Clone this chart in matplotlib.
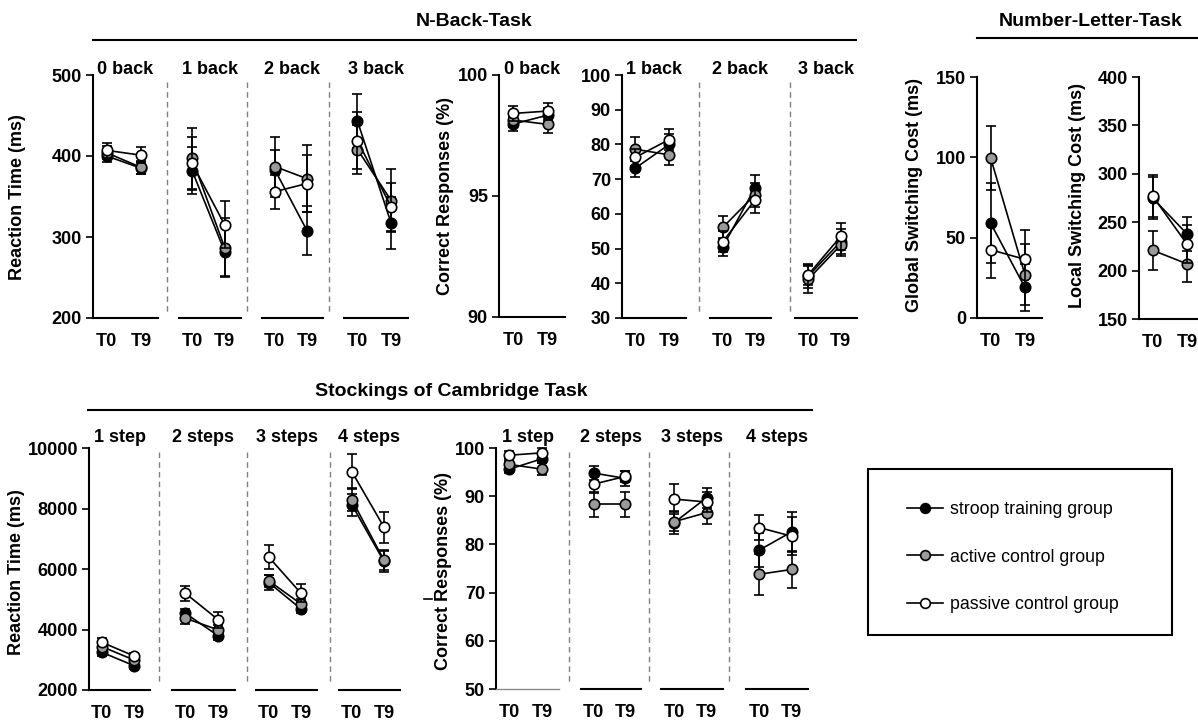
import matplotlib
matplotlib.use('Agg')
import matplotlib.pyplot as plt
from matplotlib.lines import Line2D
from matplotlib.patches import Rectangle

# groups and time points
group_names = ['stroop training group', 'active control group', 'passive control group']
fills = ['#000000', '#9a9a9a', '#ffffff']
time_labels = ['T0', 'T9']

# N-Back reaction time (ms), per level [T0, T9]
nback_levels = ['0 back', '1 back', '2 back', '3 back']
nback_rt_stroop = [[400, 385], [382, 282], [383, 308], [443, 317]]
nback_rt_active = [[404, 386], [397, 287], [387, 372], [408, 345]]
nback_rt_passive = [[407, 401], [391, 315], [356, 366], [419, 337]]
nback_rt_stroop_err = [[8, 7], [29, 30], [25, 30], [33, 32]]
nback_rt_active_err = [[8, 8], [38, 36], [37, 41], [30, 39]]
nback_rt_passive_err = [[9, 10], [33, 29], [21, 35], [35, 30]]

# N-Back correct responses (%)
nback_cr_stroop = [[97.97, 98.34], [73.2, 80.0], [50.5, 67.5], [42.0, 52.0]]
nback_cr_active = [[98.14, 97.96], [78.6, 77.0], [56.1, 65.5], [41.1, 51.0]]
nback_cr_passive = [[98.41, 98.51], [76.3, 81.4], [52.0, 64.0], [42.4, 53.5]]
nback_cr_stroop_err = [[0.3, 0.3], [2.5, 3.0], [2.5, 3.7], [3.5, 3.5]]
nback_cr_active_err = [[0.3, 0.37], [3.4, 3.0], [3.4, 3.5], [4.0, 3.0]]
nback_cr_passive_err = [[0.3, 0.35], [2.5, 3.0], [3.0, 3.8], [3.0, 4.0]]

# Number-Letter-Task switching costs (ms), per group [T0, T9]
global_cost = [[59, 19], [99.6, 27], [42.5, 36.5]]
global_cost_err = [[25, 14.6], [19.7, 19], [17.5, 18]]
local_cost = [[275, 238], [221, 207], [277, 227.5]]
local_cost_err = [[22, 17.5], [20, 19], [22, 20]]

# Stockings of Cambridge reaction time (ms)
soc_levels = ['1 step', '2 steps', '3 steps', '4 steps']
soc_rt_stroop = [[3247, 2805], [4538, 3788], [5550, 4681], [8124, 6250]]
soc_rt_active = [[3434, 2993], [4372, 3986], [5608, 4846], [8290, 6292]]
soc_rt_passive = [[3578, 3126], [5200, 4317], [6392, 5200], [9217, 7385]]
soc_rt_stroop_err = [[120, 100], [150, 130], [250, 120], [370, 333]]
soc_rt_active_err = [[120, 100], [200, 150], [200, 150], [380, 320]]
soc_rt_passive_err = [[130, 110], [250, 265], [390, 290], [585, 515]]

# Stockings of Cambridge correct responses (%)
soc_cr_stroop = [[95.6, 97.8], [94.8, 93.7], [84.5, 89.7], [78.8, 82.6]]
soc_cr_active = [[96.6, 95.6], [88.3, 88.3], [84.7, 86.6], [73.8, 74.8]]
soc_cr_passive = [[98.5, 99.0], [92.5, 94.1], [89.4, 88.8], [83.5, 81.7]]
soc_cr_stroop_err = [[0.8, 1.0], [1.4, 1.5], [2.4, 2.1], [3.5, 4.1]]
soc_cr_active_err = [[0.8, 1.3], [2.6, 2.6], [2.0, 2.4], [4.3, 3.9]]
soc_cr_passive_err = [[0.8, 1.0], [1.8, 1.2], [3.1, 2.0], [2.6, 4.0]]

W, H = 1198, 720
plt.rcParams['font.family'] = ['Liberation Sans', 'DejaVu Sans']
plt.rcParams['font.weight'] = 'bold'
fig = plt.figure(figsize=(W / 100, H / 100), dpi=100)


def fx(x):
    return x / W


def fy(y):
    return 1 - y / H


def panel(x0, x1, ytop, ybot, ylim, means, errs, k, title=None, yticks=None, gap=6):
    # one sub-panel, positioned in pixels of the figure
    ax = fig.add_axes([fx(x0), fy(ybot), (x1 - x0) / W, (ybot - ytop) / H])
    for g in range(3):
        ax.errorbar([0, 1], means[g][k], yerr=errs[g][k], color='black', lw=1.2,
                    elinewidth=1.2, capsize=3.5, capthick=1.2, marker='o', ms=7.5,
                    mfc=fills[g], mec='black', mew=1.2, zorder=3 + g)
    for art in ax.lines + ax.collections:
        art.set_clip_on(False)
    ax.set_xlim(-0.4, 1.5)
    ax.set_ylim(ylim)
    ax.set_xticks([0, 1])
    ax.set_xticklabels(time_labels)
    ax.tick_params(axis='x', length=0, pad=11, labelsize=13)
    ax.spines[['top', 'right']].set_visible(False)
    ax.spines['bottom'].set_linewidth(1.5)
    if yticks is None:
        ax.spines['left'].set_visible(False)
        ax.set_yticks([])
    else:
        ax.spines['left'].set_linewidth(1.5)
        ax.set_yticks(yticks)
        ax.tick_params(axis='y', direction='out', length=5, width=1.2, labelsize=13, pad=3)
    ax.patch.set_alpha(0)
    if title:
        ax.annotate(title, xy=(0.5, 1), xycoords='axes fraction', xytext=(0, gap),
                    textcoords='offset pixels', ha='center', va='center', fontsize=13)
    return ax


def hline(x0, x1, y, lw=1.5):
    fig.add_artist(Line2D([fx(x0), fx(x1)], [fy(y), fy(y)], color='black', lw=lw))


def vdash(x, y0, y1):
    fig.add_artist(Line2D([fx(x), fx(x)], [fy(y0), fy(y1)], color='#808080', lw=1,
                          linestyle=(0, (4, 3))))


def ylab(x, y, text):
    fig.text(fx(x), fy(y), text, rotation=90, ha='center', va='center', fontsize=13)


# ---- N-Back reaction time
rt_means = [nback_rt_stroop, nback_rt_active, nback_rt_passive]
rt_errs = [nback_rt_stroop_err, nback_rt_active_err, nback_rt_passive_err]
spans = [(93, 158), (179, 241), (262, 323), (344, 408)]
for k, (a, b) in enumerate(spans):
    panel(a, b, 75, 318, (200, 500), rt_means, rt_errs, k, nback_levels[k],
          yticks=[200, 300, 400, 500] if k == 0 else None)
for x in [167, 247, 329]:
    vdash(x, 82, 312)
ylab(18, 197, 'Reaction Time (ms)')

# ---- N-Back correct responses
cr_means = [nback_cr_stroop, nback_cr_active, nback_cr_passive]
cr_errs = [nback_cr_stroop_err, nback_cr_active_err, nback_cr_passive_err]
panel(499, 565, 75, 317, (90, 100), cr_means, cr_errs, 0, nback_levels[0], yticks=[90, 95, 100])
panel(622, 686, 75, 318, (30, 100), cr_means, cr_errs, 1, nback_levels[1],
      yticks=[30, 40, 50, 60, 70, 80, 90, 100])
panel(710, 771, 75, 318, (30, 100), cr_means, cr_errs, 2, nback_levels[2])
panel(795, 857, 75, 318, (30, 100), cr_means, cr_errs, 3, nback_levels[3])
for x in [699, 790]:
    vdash(x, 82, 312)
ylab(445, 196, 'Correct Responses (%)')

fig.text(fx(474), fy(22), 'N-Back-Task', ha='center', va='center', fontsize=14)
hline(93, 856, 40)

# ---- Number-Letter-Task
g_means = [[global_cost[g]] for g in range(3)]
g_errs = [[global_cost_err[g]] for g in range(3)]
panel(977, 1042, 77, 318, (0, 150), g_means, g_errs, 0, yticks=[0, 50, 100, 150])
l_means = [[local_cost[g]] for g in range(3)]
l_errs = [[local_cost_err[g]] for g in range(3)]
panel(1139, 1204, 77, 319, (150, 400), l_means, l_errs, 0, yticks=[150, 200, 250, 300, 350, 400])
ylab(915, 195, 'Global Switching Cost (ms)')
ylab(1077, 196, 'Local Switching Cost (ms)')
fig.text(fx(1091), fy(21), 'Number-Letter-Task', ha='center', va='center', fontsize=14)
hline(977, 1198, 38)

# ---- Stockings of Cambridge reaction time
s_rt_means = [soc_rt_stroop, soc_rt_active, soc_rt_passive]
s_rt_errs = [soc_rt_stroop_err, soc_rt_active_err, soc_rt_passive_err]
spans = [(89, 150), (172, 235), (256, 317), (339, 400)]
for k, (a, b) in enumerate(spans):
    panel(a, b, 448, 690, (2000, 10000), s_rt_means, s_rt_errs, k, soc_levels[k],
          yticks=[2000, 4000, 6000, 8000, 10000] if k == 0 else None, gap=10)
for x in [159, 247, 330]:
    vdash(x, 452, 682)
ylab(17, 572, 'Reaction Time (ms)')

# ---- Stockings of Cambridge correct responses
s_cr_means = [soc_cr_stroop, soc_cr_active, soc_cr_passive]
s_cr_errs = [soc_cr_stroop_err, soc_cr_active_err, soc_cr_passive_err]
spans = [(496, 559), (581, 641), (661, 723), (746, 808)]
for k, (a, b) in enumerate(spans):
    ax = panel(a, b, 448, 689, (50, 100), s_cr_means, s_cr_errs, k, soc_levels[k],
               yticks=[50, 60, 70, 80, 90, 100] if k == 0 else None, gap=11)
    if k == 0:
        ax.spines['bottom'].set_color('#8a8a8a')
        ax.spines['bottom'].set_linewidth(1)
for x in [569, 649, 729]:
    vdash(x, 452, 683)
ylab(443, 571, 'Correct Responses (%)')
hline(424, 432, 599, lw=1.2)

fig.text(fx(451), fy(392), 'Stockings of Cambridge Task', ha='center', va='center', fontsize=14)
hline(88, 812, 410)

# ---- legend (frame drawn separately so its size matches the original box)
fig.add_artist(Rectangle((fx(868), fy(635)), (1172 - 868) / W, (635 - 469) / H,
                         transform=fig.transFigure, fill=False, edgecolor='black', lw=1.5))
handles = [Line2D([], [], color='black', lw=1.2, marker='o', ms=7, mfc=fills[g],
                  mec='black', mew=1.2) for g in range(3)]
fig.legend(handles, group_names, loc='upper left', bbox_to_anchor=(fx(907), fy(501)),
           frameon=False, borderpad=0, borderaxespad=0, handlelength=2.0,
           handletextpad=0.4, labelspacing=1.72, prop={'size': 12.8, 'weight': 'normal'})

fig.savefig('out.png', dpi=100)
